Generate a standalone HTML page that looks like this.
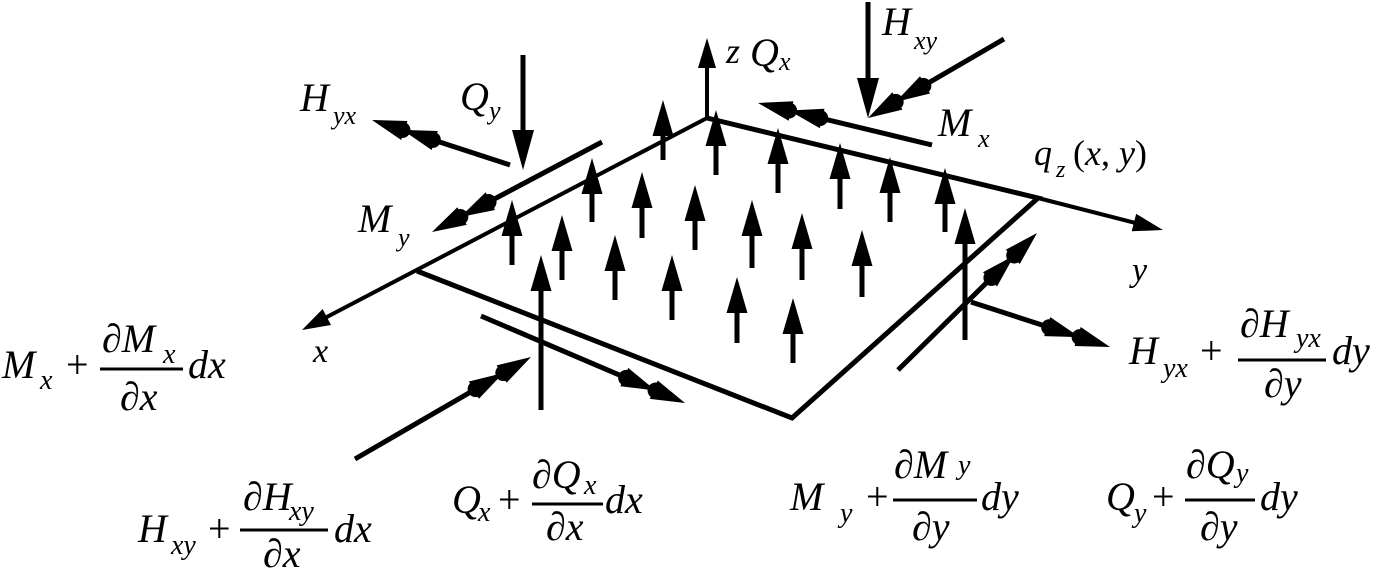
<!DOCTYPE html>
<html><head><meta charset="utf-8"><style>
html,body{margin:0;padding:0;background:#fff}
svg{display:block}
svg text{font-family:"Liberation Serif","DejaVu Serif",serif;font-style:italic;fill:#000}
svg text .up, svg text.up{font-style:normal}
</style></head><body>
<svg id="s" width="1373" height="573" viewBox="0 0 1373 573" xmlns="http://www.w3.org/2000/svg">
<g id="g" stroke="#000" fill="#000"></g>
<g stroke="#000" stroke-width="3">
<line x1="100" y1="369" x2="183" y2="369"/>
<line x1="240" y1="530" x2="328" y2="530"/>
<line x1="532" y1="504" x2="603" y2="504"/>
<line x1="893" y1="500" x2="977" y2="500"/>
<line x1="1185" y1="500" x2="1255" y2="500"/>
<line x1="1238" y1="360" x2="1326" y2="360"/>
</g>
<g font-size="40" font-family="Liberation Serif, DejaVu Serif, serif" font-style="italic">
<text x="300" y="111">H</text><text x="333" y="124" font-size="26">yx</text>
<text x="460" y="110">Q</text><text x="489" y="119" font-size="26">y</text>
<text x="358" y="232">M</text><text x="398" y="246" font-size="26">y</text>
<text x="313" y="362" font-size="34">x</text>
<text x="726" y="63" font-size="36">z</text><text x="750" y="66">Q</text><text x="779" y="70" font-size="26">x</text>
<text x="882" y="35">H</text><text x="914" y="49" font-size="26">xy</text>
<text x="938" y="136">M</text><text x="978" y="147" font-size="26">x</text>
<text x="1034" y="165" font-size="36">q</text><text x="1056" y="177" font-size="24">z</text><text x="1073" y="165" font-size="36"><tspan class="up" font-style="normal">(</tspan>x<tspan class="up" font-style="normal">,</tspan> y<tspan class="up" font-style="normal">)</tspan></text>
<text x="1132" y="281" font-size="34">y</text>

<text x="2" y="378">M</text><text x="40" y="389" font-size="28">x</text>
<text x="66" y="378" class="up" font-style="normal">+</text>
<text x="102" y="352">∂M</text><text x="163" y="363" font-size="28">x</text>
<text x="120" y="410">∂x</text>
<text x="188" y="378">dx</text>

<text x="138" y="542">H</text><text x="171" y="554" font-size="28">xy</text>
<text x="208" y="542" class="up" font-style="normal">+</text>
<text x="243" y="510">∂H</text><text x="289" y="520" font-size="28">xy</text>
<text x="263" y="567">∂x</text>
<text x="334" y="542">dx</text>

<text x="452" y="513">Q</text><text x="478" y="521" font-size="28">x</text>
<text x="498" y="513" class="up" font-style="normal">+</text>
<text x="532" y="488">∂Q</text><text x="584" y="494" font-size="28">x</text>
<text x="546" y="540">∂x</text>
<text x="605" y="513">dx</text>

<text x="790" y="510">M</text><text x="840" y="522" font-size="28">y</text>
<text x="866" y="510" class="up" font-style="normal">+</text>
<text x="894" y="478">∂M</text><text x="958" y="474" font-size="28">y</text>
<text x="912" y="540">∂y</text>
<text x="981" y="510">dy</text>

<text x="1106" y="510">Q</text><text x="1134" y="522" font-size="28">y</text>
<text x="1152" y="510" class="up" font-style="normal">+</text>
<text x="1186" y="478">∂Q</text><text x="1236" y="482" font-size="28">y</text>
<text x="1200" y="540">∂y</text>
<text x="1260" y="510">dy</text>

<text x="1129" y="364">H</text><text x="1163" y="377" font-size="28">yx</text>
<text x="1200" y="364" class="up" font-style="normal">+</text>
<text x="1240" y="337">∂H</text><text x="1296" y="347" font-size="28">yx</text>
<text x="1264" y="397">∂y</text>
<text x="1332" y="364">dy</text>
</g>
</svg>
<script>
var g=document.getElementById('g'),NS='http://www.w3.org/2000/svg';
function el(t,a){var e=document.createElementNS(NS,t);for(var k in a)e.setAttribute(k,a[k]);g.appendChild(e);return e;}
function line(x1,y1,x2,y2,w){el('line',{x1:x1,y1:y1,x2:x2,y2:y2,'stroke-width':w||5});}
function head(tx,ty,dx,dy,L,W){var bx=tx-dx*L,by=ty-dy*L,px=-dy*W,py=dx*W;
 el('polygon',{points:tx+','+ty+' '+(bx+px)+','+(by+py)+' '+(bx-px)+','+(by-py),stroke:'none'});}
function arrow(sx,sy,tx,ty,w,L,W){var d=Math.hypot(tx-sx,ty-sy),dx=(tx-sx)/d,dy=(ty-sy)/d;
 line(sx,sy,tx-dx*L*0.8,ty-dy*L*0.8,w);head(tx,ty,dx,dy,L,W);}
function dbl(sx,sy,tx,ty){var d=Math.hypot(tx-sx,ty-sy),dx=(tx-sx)/d,dy=(ty-sy)/d;
 line(sx,sy,tx-dx*40,ty-dy*40,5);
 for(var i=0;i<2;i++){var ox=tx-dx*32*i,oy=ty-dy*32*i;head(ox,oy,dx,dy,34,10);
  el('circle',{cx:ox-dx*32,cy:oy-dy*32,r:8,stroke:'none'});}}
function up(x,y1,y2){line(x,y1+30,x,y2,5);head(x,y1,0,-1,36,10.5);}
el('polyline',{points:'707,118 1038,198 792,418 417,271',fill:'none','stroke-width':5,'stroke-linejoin':'miter'});
arrow(707,118,302,330,4,28,9);
arrow(1038,198,1163,230,4,30,9);
arrow(707,118,707,38,4,30,9);
arrow(523,55,523,170,5,40,11);
arrow(868,2,868,118,5,40,11);
[[663,100,160],[716,110,175],[778,128,193],[840,143,209],[890,157,222],[945,168,232],
 [592,158,222],[642,172,238],[695,185,250],[752,200,268],[802,213,280],[862,230,297],
 [512,200,265],[562,215,280],[615,235,300],[672,255,320],[737,277,343],[793,298,363],
 [541,255,410],[965,208,340]].forEach(function(a){up(a[0],a[1],a[2]);});
dbl(510,165,372,120);dbl(602,142,432,232);dbl(1004,39,868,118);dbl(932,145,758,103);
dbl(481,316,685,403);dbl(355,459,531,357);dbl(898,370,1037,233);dbl(971,302,1110,347);
</script>
</body></html>
